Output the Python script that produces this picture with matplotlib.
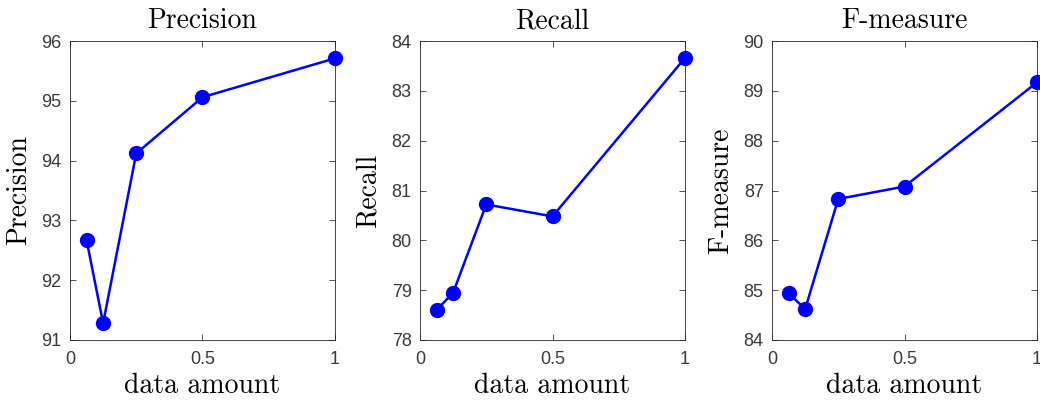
import matplotlib
matplotlib.use("Agg")
import matplotlib.pyplot as plt

data_amount = [0.0625, 0.125, 0.25, 0.5, 1.0]
precision = [92.67, 91.28, 94.12, 95.06, 95.71]
recall = [78.60, 78.95, 80.72, 80.48, 83.66]
fmeasure = [84.94, 84.62, 86.83, 87.08, 89.17]

titles = ["Precision", "Recall", "F-measure"]
series = [precision, recall, fmeasure]
ylims = [(91, 96), (78, 84), (84, 90)]
xticks = [0, 0.5, 1]
xticklabels = ["0", "0.5", "1"]

fig = plt.figure(figsize=(10.4, 4.0), dpi=100)
lefts = [70, 420, 772]
serif = "cmr10"
tick_color = "#262626"

for left, title, vals, yl in zip(lefts, titles, series, ylims):
    ax = fig.add_axes([left / 1040, 60 / 400, 265 / 1040, 299 / 400])
    ax.plot(data_amount, vals, color=(0, 0, 1), linewidth=1.8, marker="o",
            markersize=10, clip_on=False, zorder=3)
    ax.set_xlim(0, 1)
    ax.set_ylim(*yl)
    ax.set_xticks(xticks)
    ax.set_xticklabels(xticklabels)
    ax.set_yticks(range(yl[0], yl[1] + 1))
    ax.tick_params(direction="in", top=True, right=True, length=4,
                   width=0.6, colors="#3a3a3a", labelsize=13)
    ax.tick_params(axis="x", pad=8)
    ax.tick_params(axis="y", pad=6)
    for lab in ax.get_xticklabels() + ax.get_yticklabels():
        lab.set_fontfamily("Liberation Sans")
    for sp in ax.spines.values():
        sp.set_color(tick_color)
        sp.set_linewidth(0.6)
    ax.set_title(title, fontfamily=serif, fontsize=20, pad=9)
    ax.set_ylabel(title, fontfamily=serif, fontsize=20, labelpad=7)
    ax.set_xlabel("data amount", fontfamily=serif, fontsize=20, labelpad=3)

fig.savefig("out.png", dpi=100)
